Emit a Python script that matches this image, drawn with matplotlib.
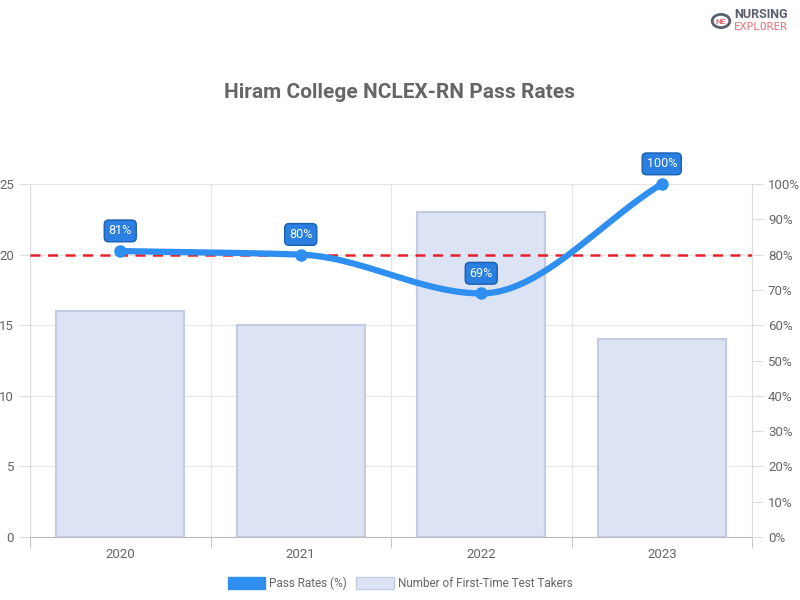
import numpy as np
import matplotlib
matplotlib.use("Agg")
import matplotlib.pyplot as plt
from matplotlib.patches import Patch, Circle

plt.rcParams['font.family'] = ['Roboto', 'DejaVu Sans']

years = ["2020", "2021", "2022", "2023"]
takers = [16, 15, 23, 14]
pass_rates = [81, 80, 69, 100]
benchmark = 80

fig = plt.figure(figsize=(8, 6), dpi=100)
ax = fig.add_axes([30/800, 1-537/600, 722/800, 353/600])
ax2 = ax.twinx()
x = np.arange(len(years))
ax.bar(x, takers, width=0.71, color='#dce3f5', edgecolor='#c5cbe0', linewidth=1.5, zorder=2)
ax.set_xlim(-0.5, 3.5)
ax.set_ylim(0, 25)
ax.set_yticks(range(0, 26, 5))
ax2.set_ylim(0, 100)
ax2.set_yticks(range(0, 101, 10))
ax2.set_yticklabels([f"{v}%" for v in range(0, 101, 10)])
ax.set_xticks(x)
ax.set_xticklabels(years)
ax.set_xticks(np.arange(-0.5, 3.6, 1), minor=True)
ax.grid(True, which='minor', axis='x', color='#e6e6e6', lw=0.8)
ax.grid(True, which='major', axis='y', color='#e6e6e6', lw=0.8)
ax.tick_params(axis='x', which='major', length=0, pad=8)
ax.tick_params(axis='x', which='minor', length=8, color='#bbb')
for a in (ax, ax2):
    a.tick_params(axis='y', labelsize=9.5, colors='#666', length=8, color='#ddd')
    for s in a.spines.values():
        s.set_visible(False)
ax.tick_params(axis='x', labelsize=9.5, colors='#666')
ax.spines['bottom'].set_visible(True); ax.spines['bottom'].set_color('#bbb')
ax.spines['left'].set_visible(True); ax.spines['left'].set_color('#ddd')
ax2.spines['right'].set_visible(True); ax2.spines['right'].set_color('#ddd')
ax.set_axisbelow(True)

# smooth curve (monotone cubic for rendering)
y = np.array(pass_rates, float)
d = np.diff(y)
m = np.zeros(4)
m[0], m[-1] = d[0], d[-1]
for i in range(1, 3):
    m[i] = 0 if d[i-1]*d[i] <= 0 else 2/(1/d[i-1]+1/d[i])
xs, ys = [], []
for i in range(3):
    t = np.linspace(0, 1, 50)
    h00 = 2*t**3-3*t**2+1; h10 = t**3-2*t**2+t; h01 = -2*t**3+3*t**2; h11 = t**3-t**2
    xs += list(i+t); ys += list(h00*y[i]+h10*m[i]+h01*y[i+1]+h11*m[i+1])
ax2.plot(xs, ys, color='#2e8ff0', lw=4.5, zorder=5, solid_capstyle='round', clip_on=False)
ax2.plot(x, y, 'o', color='#2e8ff0', ms=8, zorder=6, clip_on=False)
ax2.axhline(benchmark, color='#e8202a', ls=(0, (4, 3)), lw=1.8, zorder=4)
for xi, v in zip(x, pass_rates):
    ax2.annotate(f"{v}%", (xi, v), xytext=(0, 14.5), textcoords='offset points', ha='center', va='center',
                 color='white', fontsize=9, zorder=7,
                 bbox=dict(boxstyle='round,pad=0.35', fc='#2a7fe0', ec='#1a5fb0', lw=1))

fig.text(0.5, 1-93/600, "Hiram College NCLEX-RN Pass Rates", ha='center', va='center',
         fontsize=15, fontweight='bold', color='#666')
handles = [Patch(fc='#2e8ff0', ec='#2e8ff0'), Patch(fc='#dce3f5', ec='#c5cbe0')]
fig.legend(handles, ["Pass Rates (%)", "Number of First-Time Test Takers"], loc='center',
           bbox_to_anchor=(0.5, 1-583/600), ncol=2, frameon=False, fontsize=8.5,
           labelcolor='#666', handlelength=3.2, handleheight=1.2, handletextpad=0.3, columnspacing=0.8)

# logo
fig.patches.append(Circle((721/800, 1-21/600), 0.011, transform=fig.transFigure,
                          fill=False, ec='#5a5f6e', lw=2))
fig.text(721/800, 1-21/600, "NE", ha='center', va='center', fontsize=6, color='#e0707a', fontweight='bold')
fig.text(734/800, 1-15/600, "NURSING", fontsize=9, fontweight='bold', color='#5a5f6e', va='center')
fig.text(734/800, 1-27/600, "EXPLORER", fontsize=8, color='#e0707a', va='center', family='DejaVu Sans Mono')

fig.savefig("out.png", dpi=100)
